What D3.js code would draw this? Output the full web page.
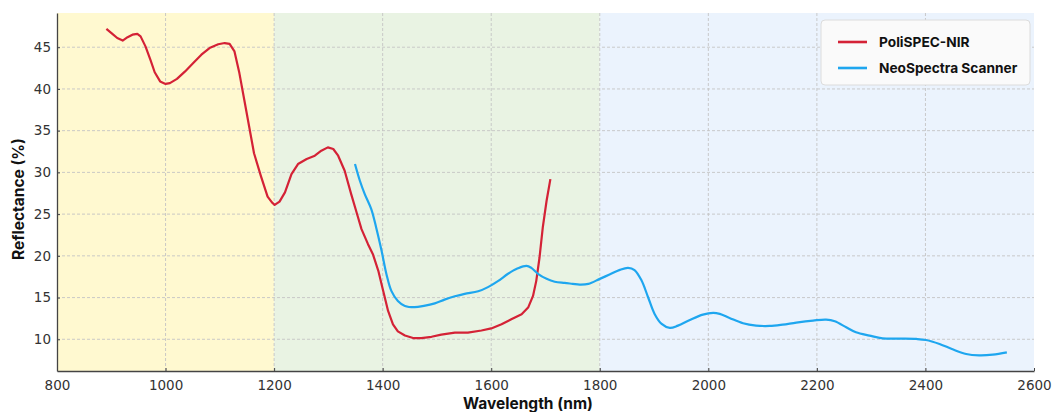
<!DOCTYPE html>
<html>
<head>
<meta charset="utf-8">
<script src="https://cdn.jsdelivr.net/npm/d3@7"></script>
<style>
  body { margin: 0; background: #fff; }
  .tick text { font-family: "DejaVu Sans", sans-serif; font-size: 13.5px; fill: #333; }
  .lbl { font-family: Inter, "Liberation Sans", sans-serif; font-weight: 700; fill: #111; }
</style>
</head>
<body>
<div id="chart"></div>
<script>
// spectral regions (nm)
const bandEdges = [800, 1200, 1800, 2600];

const xTicks = [800, 1000, 1200, 1400, 1600, 1800, 2000, 2200, 2400, 2600];
const yTicks = [10, 15, 20, 25, 30, 35, 40, 45];

const seriesNames = ['PoliSPEC-NIR', 'NeoSpectra Scanner'];

// PoliSPEC-NIR: [wavelength, reflectance]
const polispec = [
    [891, 47.2], [902, 46.6], [911, 46.1], [921, 45.8], [930, 46.2], [939, 46.5],
    [948, 46.6], [954, 46.3], [963, 45.1], [972, 43.5], [980, 42.0], [990, 40.9],
    [1000, 40.6], [1008, 40.7], [1021, 41.2], [1036, 42.1], [1051, 43.1], [1066, 44.1],
    [1081, 44.9], [1097, 45.35], [1109, 45.5], [1118, 45.4], [1127, 44.5], [1136, 41.9],
    [1145, 38.7], [1154, 35.5], [1163, 32.3], [1176, 29.5], [1188, 27.1], [1196, 26.4],
    [1201, 26.1], [1210, 26.5], [1220, 27.6], [1232, 29.8], [1244, 31.0], [1260, 31.6],
    [1275, 32.0], [1287, 32.6], [1299, 33.0], [1309, 32.8], [1318, 32.0], [1330, 30.2],
    [1342, 27.4], [1352, 25.2], [1361, 23.2], [1373, 21.4], [1382, 20.2], [1392, 18.2],
    [1401, 15.8], [1410, 13.4], [1419, 11.8], [1428, 10.95], [1441, 10.45], [1456, 10.15],
    [1471, 10.15], [1490, 10.3], [1508, 10.55], [1533, 10.8], [1557, 10.8], [1582, 11.05],
    [1600, 11.3], [1619, 11.8], [1637, 12.4], [1656, 13.0], [1668, 13.8], [1677, 15.2],
    [1683, 17.0], [1689, 19.8], [1695, 23.4], [1702, 26.6], [1709, 29.2]
];

// NeoSpectra Scanner: [wavelength, reflectance]
const neospectra = [
    [1349, 31.0], [1358, 29.0], [1367, 27.4], [1379, 25.6], [1388, 23.4], [1398, 20.6],
    [1407, 17.8], [1416, 15.8], [1428, 14.6], [1441, 14.0], [1459, 13.85], [1476, 14.0],
    [1496, 14.3], [1514, 14.75], [1533, 15.15], [1551, 15.45], [1576, 15.75], [1594, 16.25],
    [1613, 17.0], [1631, 17.85], [1649, 18.5], [1665, 18.8], [1674, 18.55], [1686, 17.85],
    [1702, 17.25], [1717, 16.9], [1735, 16.75], [1750, 16.65], [1763, 16.56], [1779, 16.64],
    [1800, 17.24], [1818, 17.76], [1837, 18.32], [1852, 18.56], [1864, 18.3], [1877, 17.04],
    [1889, 15.04], [1901, 13.04], [1914, 11.84], [1929, 11.36], [1944, 11.64], [1966, 12.32],
    [1990, 12.96], [2009, 13.16], [2021, 13.04], [2039, 12.56], [2064, 11.92], [2088, 11.64],
    [2113, 11.6], [2137, 11.76], [2162, 12.0], [2193, 12.24], [2217, 12.36], [2233, 12.16],
    [2254, 11.44], [2272, 10.84], [2297, 10.44], [2321, 10.12], [2352, 10.08], [2383, 10.04],
    [2401, 9.92], [2426, 9.44], [2450, 8.8], [2475, 8.24], [2499, 8.08], [2524, 8.16], [2550, 8.44]
];

const width = 1053, height = 412;
const margin = { top: 13, right: 19, bottom: 41, left: 57 };
const bandColors = ['#fff9d0', '#e9f3e3', '#ebf3fd'];
const lineColors = ['#d42236', '#1ea6ef'];

const svg = d3.select('#chart').append('svg')
    .attr('width', width)
    .attr('height', height);

const x = d3.scaleLinear().domain([800, 2600]).range([margin.left, width - margin.right]);
const y = d3.scaleLinear().domain([6.2, 49.1]).range([height - margin.bottom, margin.top]);

// background regions
svg.selectAll('.band')
    .data(d3.pairs(bandEdges))
    .enter().append('rect')
    .attr('class', 'band')
    .attr('x', d => x(d[0]))
    .attr('width', d => x(d[1]) - x(d[0]))
    .attr('y', margin.top)
    .attr('height', y.range()[0] - margin.top)
    .attr('fill', (d, i) => bandColors[i]);

// grid
const grid = svg.append('g').attr('stroke', '#c4c4c4').attr('stroke-width', 0.9).attr('stroke-dasharray', '3,2');
grid.selectAll('.vg').data(xTicks.slice(1, -1)).enter().append('line')
    .attr('x1', d => x(d)).attr('x2', d => x(d))
    .attr('y1', margin.top).attr('y2', y.range()[0]);
grid.selectAll('.hg').data(yTicks).enter().append('line')
    .attr('x1', margin.left).attr('x2', width - margin.right)
    .attr('y1', d => y(d)).attr('y2', d => y(d));

// lines
const line = d3.line().x(d => x(d[0])).y(d => y(d[1]));
svg.append('path')
    .datum(polispec)
    .attr('fill', 'none')
    .attr('stroke', lineColors[0])
    .attr('stroke-width', 2.2)
    .attr('stroke-linejoin', 'round')
    .attr('d', line.curve(d3.curveLinear));
svg.append('path')
    .datum(neospectra)
    .attr('fill', 'none')
    .attr('stroke', lineColors[1])
    .attr('stroke-width', 2.2)
    .attr('d', line.curve(d3.curveCatmullRom));

// axes
const xAxis = svg.append('g')
    .attr('transform', `translate(0, ${y.range()[0]})`)
    .call(d3.axisBottom(x).tickValues(xTicks).tickFormat(d3.format('d'))
        .tickSizeInner(-3).tickSizeOuter(0).tickPadding(9));
const yAxis = svg.append('g')
    .attr('transform', `translate(${margin.left}, 0)`)
    .call(d3.axisLeft(y).tickValues(yTicks).tickFormat(d3.format('d'))
        .tickSizeInner(-3).tickSizeOuter(0).tickPadding(6));
[xAxis, yAxis].forEach(a => {
    a.select('.domain').attr('stroke', '#444').attr('stroke-width', 1.3);
    a.selectAll('.tick line').attr('stroke', '#444');
});

// axis labels
svg.append('text')
    .attr('class', 'lbl')
    .attr('x', 528).attr('y', 409)
    .attr('text-anchor', 'middle')
    .style('font-size', '15.5px')
    .text('Wavelength (nm)');
svg.append('text')
    .attr('class', 'lbl')
    .attr('transform', 'translate(24, 199) rotate(-90)')
    .attr('text-anchor', 'middle')
    .style('font-size', '15.5px')
    .text('Reflectance (%)');

// legend
const legend = svg.append('g');
legend.append('rect')
    .attr('x', 821).attr('y', 20).attr('width', 209).attr('height', 65).attr('rx', 4)
    .attr('fill', '#fafafa').attr('stroke', '#dcdcdc');
const items = legend.selectAll('.item').data(seriesNames).enter().append('g')
    .attr('transform', (d, i) => `translate(838, ${42 + i * 26})`);
items.append('line')
    .attr('x1', 0).attr('x2', 29)
    .attr('stroke', (d, i) => lineColors[i]).attr('stroke-width', 2.6);
items.append('text')
    .attr('class', 'lbl')
    .attr('x', 41).attr('dy', '0.35em')
    .style('font-size', '13.7px')
    .text(d => d);
</script>
</body>
</html>
